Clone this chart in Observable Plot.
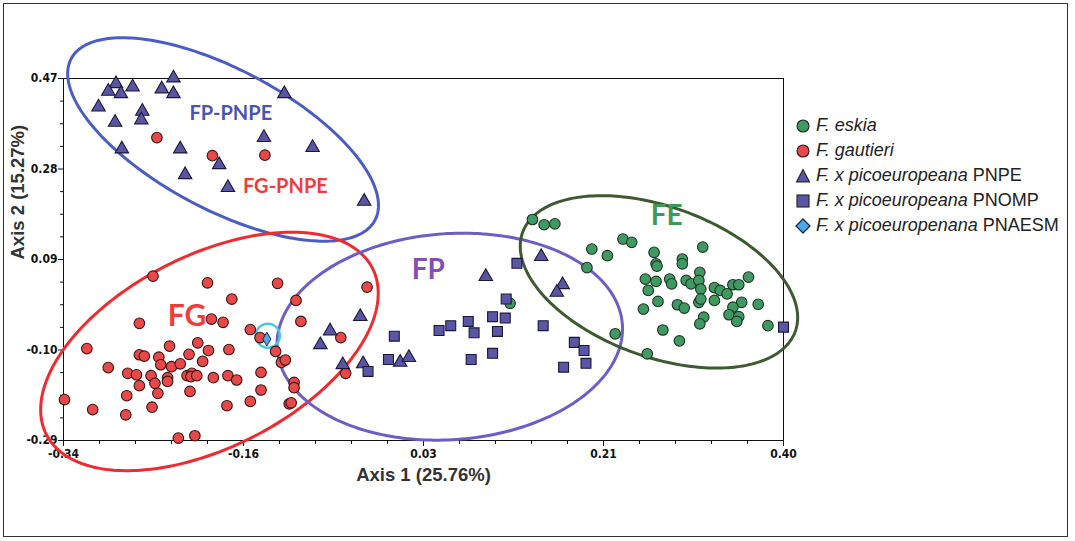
<!DOCTYPE html>
<html><head><meta charset="utf-8">
<script src="https://cdn.jsdelivr.net/npm/d3@7"></script>
<script src="https://cdn.jsdelivr.net/npm/@observablehq/plot@0.6"></script>
<style>
body{margin:0;background:#fff;}
#wrap{position:relative;width:1075px;height:541px;overflow:hidden;background:#fff;}
#border{position:absolute;left:3px;top:3px;width:1065px;height:534px;border:1.5px solid #333;box-sizing:border-box;pointer-events:none;}
#legend{position:absolute;left:795px;top:113px;font-family:"Liberation Sans",Arial,sans-serif;font-size:18px;color:#222;}
#legend .row{height:25px;display:flex;align-items:center;white-space:nowrap;}
#legend svg{margin-right:4px;}
</style></head>
<body><div id="wrap"><div id="border"></div><div id="legend"></div></div>
<script>
// ---- data (Axis 1, Axis 2) ----
const eskia = [[0.142,0.174],[0.154,0.163],[0.165,0.165],[0.235,0.133],[0.244,0.126],[0.317,0.116],[0.203,0.112],[0.219,0.098],[0.267,0.105],[0.198,0.073],[0.269,0.081],[0.270,0.076],[0.296,0.091],[0.296,0.081],[0.314,0.063],[0.258,0.049],[0.269,0.044],[0.261,0.025],[0.283,0.049],[0.285,0.039],[0.300,0.046],[0.305,0.039],[0.313,0.046],[0.315,0.028],[0.329,0.031],[0.335,0.025],[0.342,0.018],[0.348,0.037],[0.354,0.037],[0.364,0.053],[0.271,0.002],[0.256,-0.014],[0.291,-0.005],[0.298,-0.012],[0.313,0.000],[0.315,0.007],[0.329,0.004],[0.357,0.000],[0.348,-0.010],[0.374,-0.004],[0.318,-0.031],[0.314,-0.045],[0.344,-0.026],[0.354,-0.030],[0.352,-0.040],[0.384,-0.049],[0.276,-0.058],[0.293,-0.081],[0.260,-0.108],[0.227,-0.066],[0.119,-0.002]];
const gautieri = [[-0.244,0.346],[-0.187,0.308],[-0.133,0.309],[-0.248,0.055],[-0.192,0.041],[-0.120,0.040],[-0.167,0.007],[-0.101,0.004],[-0.188,-0.035],[-0.176,-0.042],[-0.262,-0.044],[-0.096,-0.040],[-0.148,-0.057],[-0.138,-0.074],[-0.028,0.032],[-0.316,-0.097],[-0.231,-0.092],[-0.202,-0.085],[-0.191,-0.101],[-0.170,-0.099],[-0.122,-0.103],[-0.211,-0.109],[-0.262,-0.110],[-0.257,-0.113],[-0.242,-0.115],[-0.197,-0.124],[-0.116,-0.126],[-0.112,-0.121],[-0.055,-0.074],[-0.294,-0.137],[-0.240,-0.131],[-0.229,-0.135],[-0.220,-0.129],[-0.274,-0.149],[-0.265,-0.152],[-0.250,-0.154],[-0.233,-0.158],[-0.233,-0.166],[-0.213,-0.154],[-0.208,-0.149],[-0.209,-0.156],[-0.203,-0.154],[-0.186,-0.158],[-0.171,-0.154],[-0.162,-0.163],[-0.137,-0.147],[-0.050,-0.149],[-0.246,-0.170],[-0.262,-0.175],[-0.243,-0.191],[-0.210,-0.187],[-0.137,-0.184],[-0.103,-0.168],[-0.103,-0.179],[-0.275,-0.196],[-0.339,-0.204],[-0.310,-0.225],[-0.249,-0.220],[-0.172,-0.217],[-0.148,-0.208],[-0.108,-0.213],[-0.106,-0.211],[-0.276,-0.236],[-0.222,-0.285],[-0.205,-0.280]];
const pnpe = [[-0.227,0.471],[-0.286,0.459],[-0.294,0.443],[-0.281,0.438],[-0.269,0.452],[-0.239,0.448],[-0.227,0.438],[-0.113,0.438],[-0.304,0.410],[-0.259,0.401],[-0.260,0.383],[-0.287,0.378],[-0.134,0.346],[-0.084,0.325],[-0.280,0.322],[-0.220,0.322],[-0.180,0.289],[-0.215,0.268],[-0.171,0.241],[-0.031,0.212],[-0.035,-0.030],[-0.066,-0.060],[-0.076,-0.089],[-0.053,-0.131],[-0.032,-0.129],[0.006,-0.126],[0.015,-0.116],[0.094,0.054],[0.151,0.096],[0.173,0.037],[0.167,0.021]];
const pnomp = [[-0.027,-0.145],[0.000,-0.071],[-0.006,-0.120],[0.046,-0.059],[0.058,-0.049],[0.076,-0.040],[0.082,-0.064],[0.101,-0.030],[0.114,-0.033],[0.106,-0.061],[0.115,0.007],[0.126,0.082],[0.079,-0.120],[0.101,-0.107],[0.153,-0.049],[0.185,-0.084],[0.195,-0.101],[0.197,-0.128],[0.174,-0.136],[0.400,-0.052]];
const pnaesm = [[-0.131,-0.077]];
const xTicks = [-0.34, -0.155, 0.03, 0.215, 0.40];
const xTickLabels = ["-0.34", "-0.16", "0.03", "0.21", "0.40"];
const yTicks = [0.47, 0.28, 0.09, -0.10, -0.29];
const yTickLabels = ["0.47", "0.28", "0.09", "-0.10", "-0.29"];
const xTitle = "Axis 1 (25.76%)";
const yTitle = "Axis 2 (15.27%)";
// group ellipses: centre and two semi-axis vectors (data units)
const ellipseNames = ["FP-PNPE", "FG", "FP", "FE"];
const ellipseCx = [-0.176, -0.190, 0.057, 0.272];
const ellipseCy = [0.342, -0.103, -0.072, 0.043];
const ellipseU = [[0.1561, -0.1696], [0.1676, 0.1745], [0.1774, 0.0254], [0.1401, -0.1041]];
const ellipseV = [[-0.0338, -0.1298], [0.0448, -0.1795], [0.0074, -0.2158], [-0.0264, -0.1480]];
const ellipseColors = ["#4a5cc6", "#f02a2e", "#6c5ec6", "#3d5a30"];
const groupLabels = ["FP-PNPE", "FG-PNPE", "FG", "FP", "FE"];
const groupLabelX = [-0.168, -0.112, -0.213, 0.035, 0.280];
const groupLabelY = [0.397, 0.243, -0.030, 0.067, 0.182];
const groupLabelSize = [20, 20, 30, 28, 28];
const groupLabelColor = ["#4a55b2", "#f23c3c", "#f23c3c", "#8150b6", "#3e9a57"];
const highlight = [[-0.130, -0.070]];

// ---- build ----
const toObj = (arr) => arr.map(([x, y]) => ({x, y}));
const ellipsePts = ellipseNames.map((n, i) => d3.range(0, 241).map(k => {
  const t = k / 240 * 2 * Math.PI;
  return {name: n,
    x: ellipseCx[i] + ellipseU[i][0] * Math.cos(t) + ellipseV[i][0] * Math.sin(t),
    y: ellipseCy[i] + ellipseU[i][1] * Math.cos(t) + ellipseV[i][1] * Math.sin(t)};
}));
const minorX = [];
for (let i = 0; i < xTicks.length - 1; i++) for (let k = 1; k < 5; k++) minorX.push(xTicks[i] + (xTicks[i+1] - xTicks[i]) * k / 5);
const minorY = [];
for (let i = 0; i < yTicks.length - 1; i++) for (let k = 1; k < 4; k++) minorY.push(yTicks[i] + (yTicks[i+1] - yTicks[i]) * k / 4);
const labels = groupLabels.map((t, i) => ({t, x: groupLabelX[i], y: groupLabelY[i], s: groupLabelSize[i], c: groupLabelColor[i]}));
const tickFont = {fontFamily: "'Liberation Sans Narrow','DejaVu Sans Condensed',sans-serif", fontWeight: "bold", fontSize: 12};

const chart = Plot.plot({
  width: 1075, height: 541,
  marginLeft: 63, marginRight: 292, marginTop: 78, marginBottom: 101,
  x: {domain: [-0.34, 0.40]},
  y: {domain: [-0.29, 0.47]},
  style: {background: "transparent", fontFamily: "'Liberation Sans',Arial,sans-serif", color: "#111"},
  marks: [
    Plot.frame({stroke: "#111", strokeWidth: 1}),
    Plot.axisX({ticks: xTicks, tickFormat: (d) => xTickLabels[xTicks.indexOf(d)], tickSize: 6, tickPadding: 3, label: null, ...tickFont, stroke: "#111"}),
    Plot.axisX({ticks: minorX, tickFormat: () => "", tickSize: 4, label: null, stroke: "#111"}),
    Plot.axisY({ticks: yTicks, tickFormat: (d) => yTickLabels[yTicks.indexOf(d)], tickSize: 5, tickPadding: 1, label: null, ...tickFont, stroke: "#111"}),
    Plot.axisY({ticks: minorY, tickFormat: () => "", tickSize: 3, label: null, stroke: "#111"}),
    Plot.text([xTitle], {frameAnchor: "bottom", dy: 40, text: d => d, fontSize: 18.5, fontWeight: "bold", fill: "#333"}),
    Plot.text([yTitle], {frameAnchor: "left", dx: -45, rotate: -90, text: d => d, fontSize: 18.5, fontWeight: "bold", fill: "#333"}),
    ...ellipsePts.map((pts, i) => Plot.line(pts, {x: "x", y: "y", stroke: ellipseColors[i], strokeWidth: 3, curve: "linear-closed"})),
    Plot.dot(toObj(highlight), {x: "x", y: "y", r: 12, stroke: "#4fc6df", strokeWidth: 2.5, fill: "none"}),
    Plot.dot(toObj(eskia), {x: "x", y: "y", r: 5.3, fill: "#3f9a62", stroke: "#1c3424", strokeWidth: 1.1}),
    Plot.dot(toObj(gautieri), {x: "x", y: "y", r: 5.3, fill: "#e84848", stroke: "#3a1414", strokeWidth: 1.1}),
    Plot.dot(toObj(pnpe), {x: "x", y: "y", r: 5.0, symbol: "triangle", fill: "#5a55a2", stroke: "#1a1838", strokeWidth: 1.1}),
    Plot.dot(toObj(pnomp), {x: "x", y: "y", r: 5.6, symbol: "square", fill: "#5b55a6", stroke: "#1a1838", strokeWidth: 1.1}),
    Plot.dot(toObj(pnaesm), {x: "x", y: "y", r: 4.2, symbol: "diamond", fill: "#4aa9e6", stroke: "#1a2a44", strokeWidth: 1}),
    Plot.text(labels, {x: "x", y: "y", text: "t", fontSize: d => d.s, fill: d => d.c, fontWeight: "bold", fontFamily: "Lato,'Open Sans',sans-serif"})
  ]
});
document.getElementById("wrap").prepend(chart);

// ---- legend ----
const legendItems = [
  {sym: "circle", fill: "#3f9a62", it: "F. eskia", rest: ""},
  {sym: "circle", fill: "#e84848", it: "F. gautieri", rest: ""},
  {sym: "triangle", fill: "#5a55a2", it: "F. x picoeuropeana", rest: " PNPE"},
  {sym: "square", fill: "#5b55a6", it: "F. x picoeuropeana", rest: " PNOMP"},
  {sym: "diamond", fill: "#4aa9e6", it: "F. x picoeuropenana", rest: " PNAESM"}
];
const lg = document.getElementById("legend");
legendItems.forEach(d => {
  const row = document.createElement("div"); row.className = "row";
  let shape = "";
  if (d.sym === "circle") shape = `<circle cx="8" cy="8" r="6" fill="${d.fill}" stroke="#222" stroke-width="1.1"/>`;
  if (d.sym === "triangle") shape = `<path d="M8,1.5 L14.5,14 L1.5,14 Z" fill="${d.fill}" stroke="#222" stroke-width="1.1"/>`;
  if (d.sym === "square") shape = `<rect x="2" y="2" width="12" height="12" fill="${d.fill}" stroke="#222" stroke-width="1.1"/>`;
  if (d.sym === "diamond") shape = `<path d="M8,1 L15,8 L8,15 L1,8 Z" fill="${d.fill}" stroke="#1a2a44" stroke-width="1.3"/>`;
  row.innerHTML = `<svg width="17" height="16">${shape}</svg><span><i>${d.it}</i>${d.rest}</span>`;
  lg.appendChild(row);
});
</script></body></html>
